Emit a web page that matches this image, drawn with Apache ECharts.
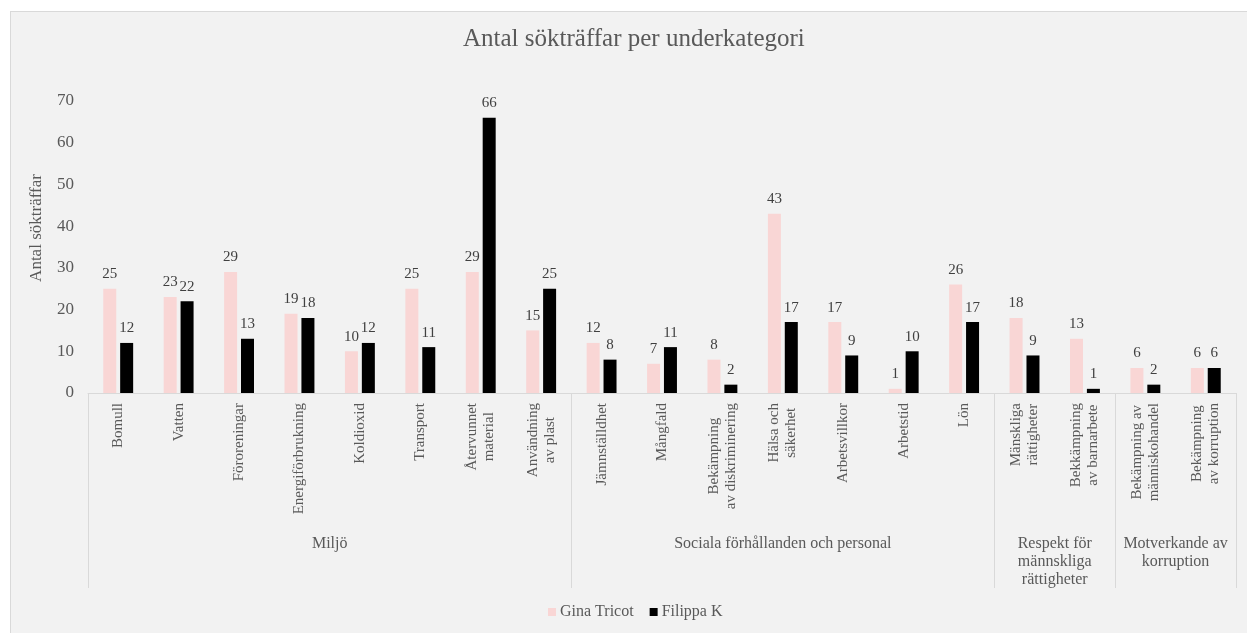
<!DOCTYPE html>
<html>
<head>
<meta charset="utf-8">
<script src="https://cdn.jsdelivr.net/npm/echarts@6/dist/echarts.min.js"></script>
<style>
html,body{margin:0;padding:0;background:#ffffff;overflow:hidden;}
#chart{position:absolute;left:10px;top:11px;width:1237px;height:622px;background:#f2f2f2;border-left:1px solid #d9d9d9;border-top:1px solid #d9d9d9;}
</style>
</head>
<body>
<div id="chart"></div>
<script>
const categories = [
  'Bomull','Vatten','Föroreningar','Energiförbrukning','Koldioxid','Transport','Återvunnet\nmaterial','Användning\nav plast',
  'Jämnställdhet','Mångfald','Bekämpning\nav diskriminering','Hälsa och\nsäkerhet','Arbetsvillkor','Arbetstid','Lön',
  'Mänskliga\nrättigheter','Bekkämpning\nav barnarbete',
  'Bekämpning av\nmänniskohandel','Bekämpning\nav korruption'
];
const ginaTricot = [25,23,29,19,10,25,29,15, 12,7,8,43,17,1,26, 18,13, 6,6];
const filippaK   = [12,22,13,18,12,11,66,25, 8,11,2,17,9,10,17, 9,1, 2,6];
const groupNames = ['Miljö','Sociala förhållanden och personal','Respekt för\nmännskliga\nrättigheter','Motverkande av\nkorruption'];
const groupSizes = [8,7,2,2];
const yTicks = [0,10,20,30,40,50,60,70];

// group boundaries and centres in category units
const groupBounds = [0];
groupSizes.forEach(s => groupBounds.push(groupBounds[groupBounds.length-1] + s));
const groupCenters = groupSizes.map((s,i) => groupBounds[i] + s/2);

const FONT = "'Liberation Serif','Times New Roman',serif";
const chart = echarts.init(document.getElementById('chart'));
chart.setOption({
  backgroundColor: '#f2f2f2',
  animation: false,
  title: {
    text: 'Antal sökträffar per underkategori',
    left: 447, top: 10,
    textStyle: {fontFamily: FONT, fontSize: 25, fontWeight: 'normal', color: '#595959'}
  },
  legend: {
    bottom: 9, left: 532,
    icon: 'rect', itemWidth: 8, itemHeight: 8, itemGap: 16,
    textStyle: {fontFamily: FONT, fontSize: 16, color: '#595959', padding: [0,0,0,-1]},
    data: ['Gina Tricot','Filippa K']
  },
  grid: {left: 77, right: 12, top: 89, bottom: 241, containLabel: false},
  xAxis: [
    {
      type: 'category', data: categories,
      axisLine: {lineStyle: {color: '#d9d9d9'}},
      axisTick: {show: false},
      axisLabel: {
        interval: 0, rotate: 90, margin: 10,
        fontFamily: FONT, fontSize: 15, color: '#595959', lineHeight: 17,
        formatter: v => v.split('\n').map(s => '{c|' + s + '}').join('\n'),
        rich: {c: {align: 'center', fontFamily: FONT, fontSize: 15, color: '#595959', lineHeight: 17}}
      }
    },
    {
      type: 'value', min: 0, max: categories.length, position: 'bottom',
      axisLine: {show: false},
      splitLine: {show: false},
      axisTick: {show: true, customValues: groupBounds, length: 195, lineStyle: {color: '#d9d9d9'}},
      axisLabel: {
        customValues: groupCenters, margin: 142,
        fontFamily: FONT, fontSize: 16, color: '#595959', lineHeight: 18,
        formatter: v => { const i = groupCenters.indexOf(v); return i >= 0 ? groupNames[i] : ''; }
      }
    }
  ],
  yAxis: {
    type: 'value', min: 0, max: 70, interval: 10,
    name: 'Antal sökträffar', nameLocation: 'middle', nameGap: 43,
    nameTextStyle: {fontFamily: FONT, fontSize: 17, color: '#595959', padding: [0,0,0,38]},
    axisLine: {show: false}, axisTick: {show: false}, splitLine: {show: false},
    axisLabel: {fontFamily: FONT, fontSize: 17, color: '#595959', margin: 14,
      formatter: v => yTicks.includes(v) ? String(v) : ''}
  },
  series: [
    {
      name: 'Gina Tricot', type: 'bar', data: ginaTricot, xAxisIndex: 0,
      barWidth: 13, barGap: '30%',
      itemStyle: {color: '#f9d6d5'},
      label: {show: true, position: 'top', distance: 7, fontFamily: FONT, fontSize: 15, color: '#404040'}
    },
    {
      name: 'Filippa K', type: 'bar', data: filippaK, xAxisIndex: 0,
      barWidth: 13, barGap: '30%',
      itemStyle: {color: '#000000'},
      label: {show: true, position: 'top', distance: 7, fontFamily: FONT, fontSize: 15, color: '#404040'}
    }
  ]
});
</script>
</body>
</html>
